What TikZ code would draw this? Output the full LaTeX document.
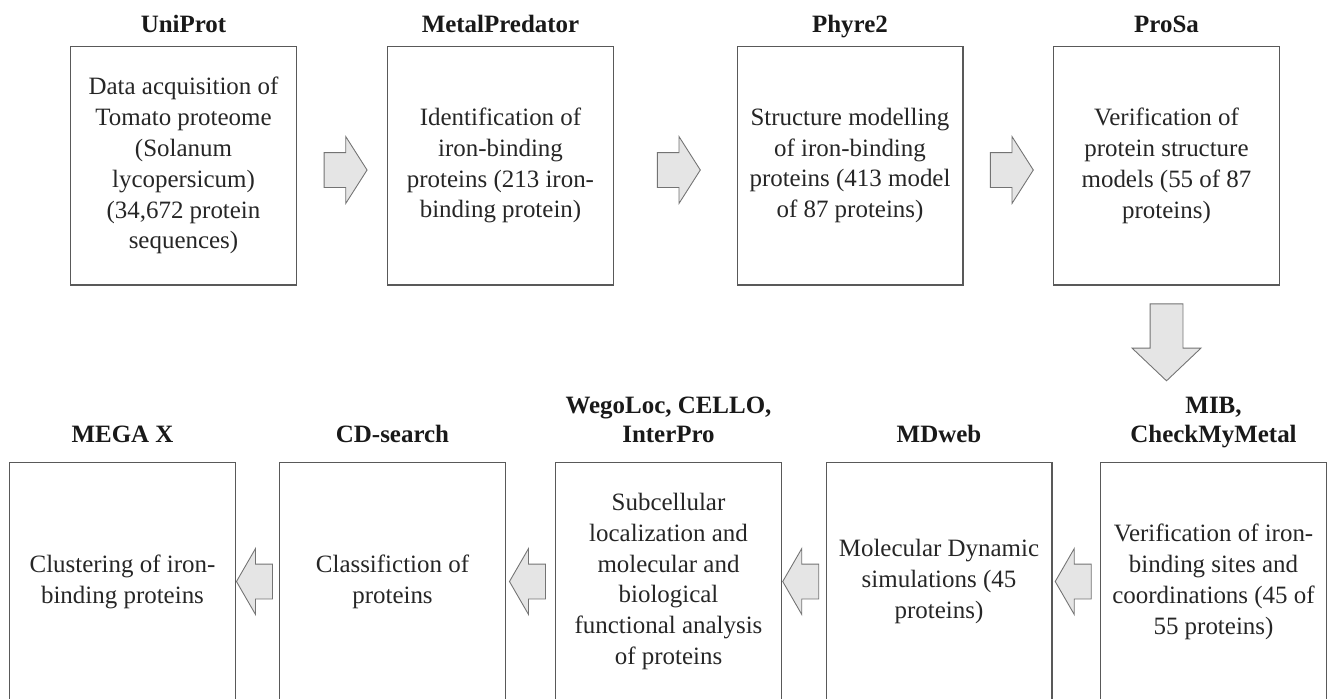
\documentclass[tikz,border=0pt]{standalone}
\usepackage{fontspec}
\setmainfont{Liberation Serif}
\usetikzlibrary{positioning,shapes.arrows,calc}

\tikzset{
  stepbox/.style={draw=black!65, line width=0.6pt, minimum width=4.52cm, minimum height=4.78cm,
    align=center, inner sep=0pt, text=black!85, font=\fontsize{14.2}{17.6}\selectfont},
  tool/.style={align=center, inner sep=0pt, text depth=0pt, text=black!90,
    font=\fontsize{14.2}{16.4}\selectfont\bfseries},
  blockarrow/.style={single arrow, draw=black!55, fill=black!10, line width=0.5pt,
    text height=0pt, text depth=0pt, inner xsep=0pt, inner ysep=0.34cm,
    minimum height=0.86cm, single arrow head extend=0.32cm, single arrow tip angle=115},
  backarrow/.style={blockarrow, shape border rotate=180, minimum height=0.72cm,
    single arrow head extend=0.31cm, single arrow tip angle=120},
}

\begin{document}
\begin{tikzpicture}[x=0.02cm, y=-0.02cm]
  \path[use as bounding box, fill=white] (0,0) rectangle (1328,698);
  \clip (0,0) rectangle (1328,698);

  % top row
  \node[stepbox] (uni) at (183.5,165.5) {Data acquisition of\\Tomato proteome\\(Solanum\\lycopersicum)\\(34,672 protein\\sequences)};
  \node[stepbox] (metal) at (500.5,165.5) {Identification of\\iron-binding\\proteins (213 iron-\\binding protein)};
  \node[stepbox] (phyre) at (850,165.5) {Structure modelling\\of iron-binding\\proteins (413 model\\of 87 proteins)};
  \node[stepbox] (prosa) at (1166.5,165.5) {Verification of\\protein structure\\models (55 of 87\\proteins)};

  % bottom row
  \node[stepbox] (mib) at (1213.5,581.5) {Verification of iron-\\binding sites and\\coordinations (45 of\\55 proteins)};
  \node[stepbox] (mdweb) at (939,581.5) {Molecular Dynamic\\simulations (45\\proteins)};
  \node[stepbox] (wego) at (668.5,581.5) {Subcellular\\localization and\\molecular and\\biological\\functional analysis\\of proteins};
  \node[stepbox] (cd) at (392.5,581.5) {Classifiction of\\proteins};
  \node[stepbox] (mega) at (122.5,581.5) {Clustering of iron-\\binding proteins};

  % tool names
  \node[tool, above=7pt of uni] (tuni) {UniProt};
  \node[tool, above=7pt of metal] (tmetal) {MetalPredator};
  \node[tool, above=7pt of phyre] (tphyre) {Phyre2};
  \node[tool, above=7pt of prosa] (tprosa) {ProSa};
  \node[tool, above=10.8pt of mib] (tmib) {MIB,\\CheckMyMetal};
  \node[tool, above=10.8pt of mdweb] (tmdweb) {MDweb};
  \node[tool, above=10.8pt of wego] (twego) {WegoLoc, CELLO,\\InterPro};
  \node[tool, above=10.8pt of cd] (tcd) {CD-search};
  \node[tool, above=10.8pt of mega] (tmega) {MEGA X};

  % block arrows
  \node[blockarrow] (a1) at ($(uni.east)!0.5!(metal.west)+(-2,4.5)$) {};
  \node[blockarrow] (a2) at ($(metal.east)!0.5!(phyre.west)+(-2,4.5)$) {};
  \node[blockarrow] (a3) at ($(phyre.east)!0.5!(prosa.west)+(-2,4.5)$) {};
  \node[blockarrow, shape border rotate=270, inner sep=0.32cm, minimum height=1.54cm,
    single arrow head extend=0.36cm, single arrow tip angle=93] (a4) at ($(prosa.south)+(0,49)$) {};
  \node[backarrow] (b1) at ($(mdweb.east)!0.5!(mib.west)+(2,0)$) {};
  \node[backarrow] (b2) at ($(wego.east)!0.5!(mdweb.west)+(2,0)$) {};
  \node[backarrow] (b3) at ($(cd.east)!0.5!(wego.west)+(2,0)$) {};
  \node[backarrow] (b4) at ($(mega.east)!0.5!(cd.west)+(2,0)$) {};
\end{tikzpicture}
\end{document}
